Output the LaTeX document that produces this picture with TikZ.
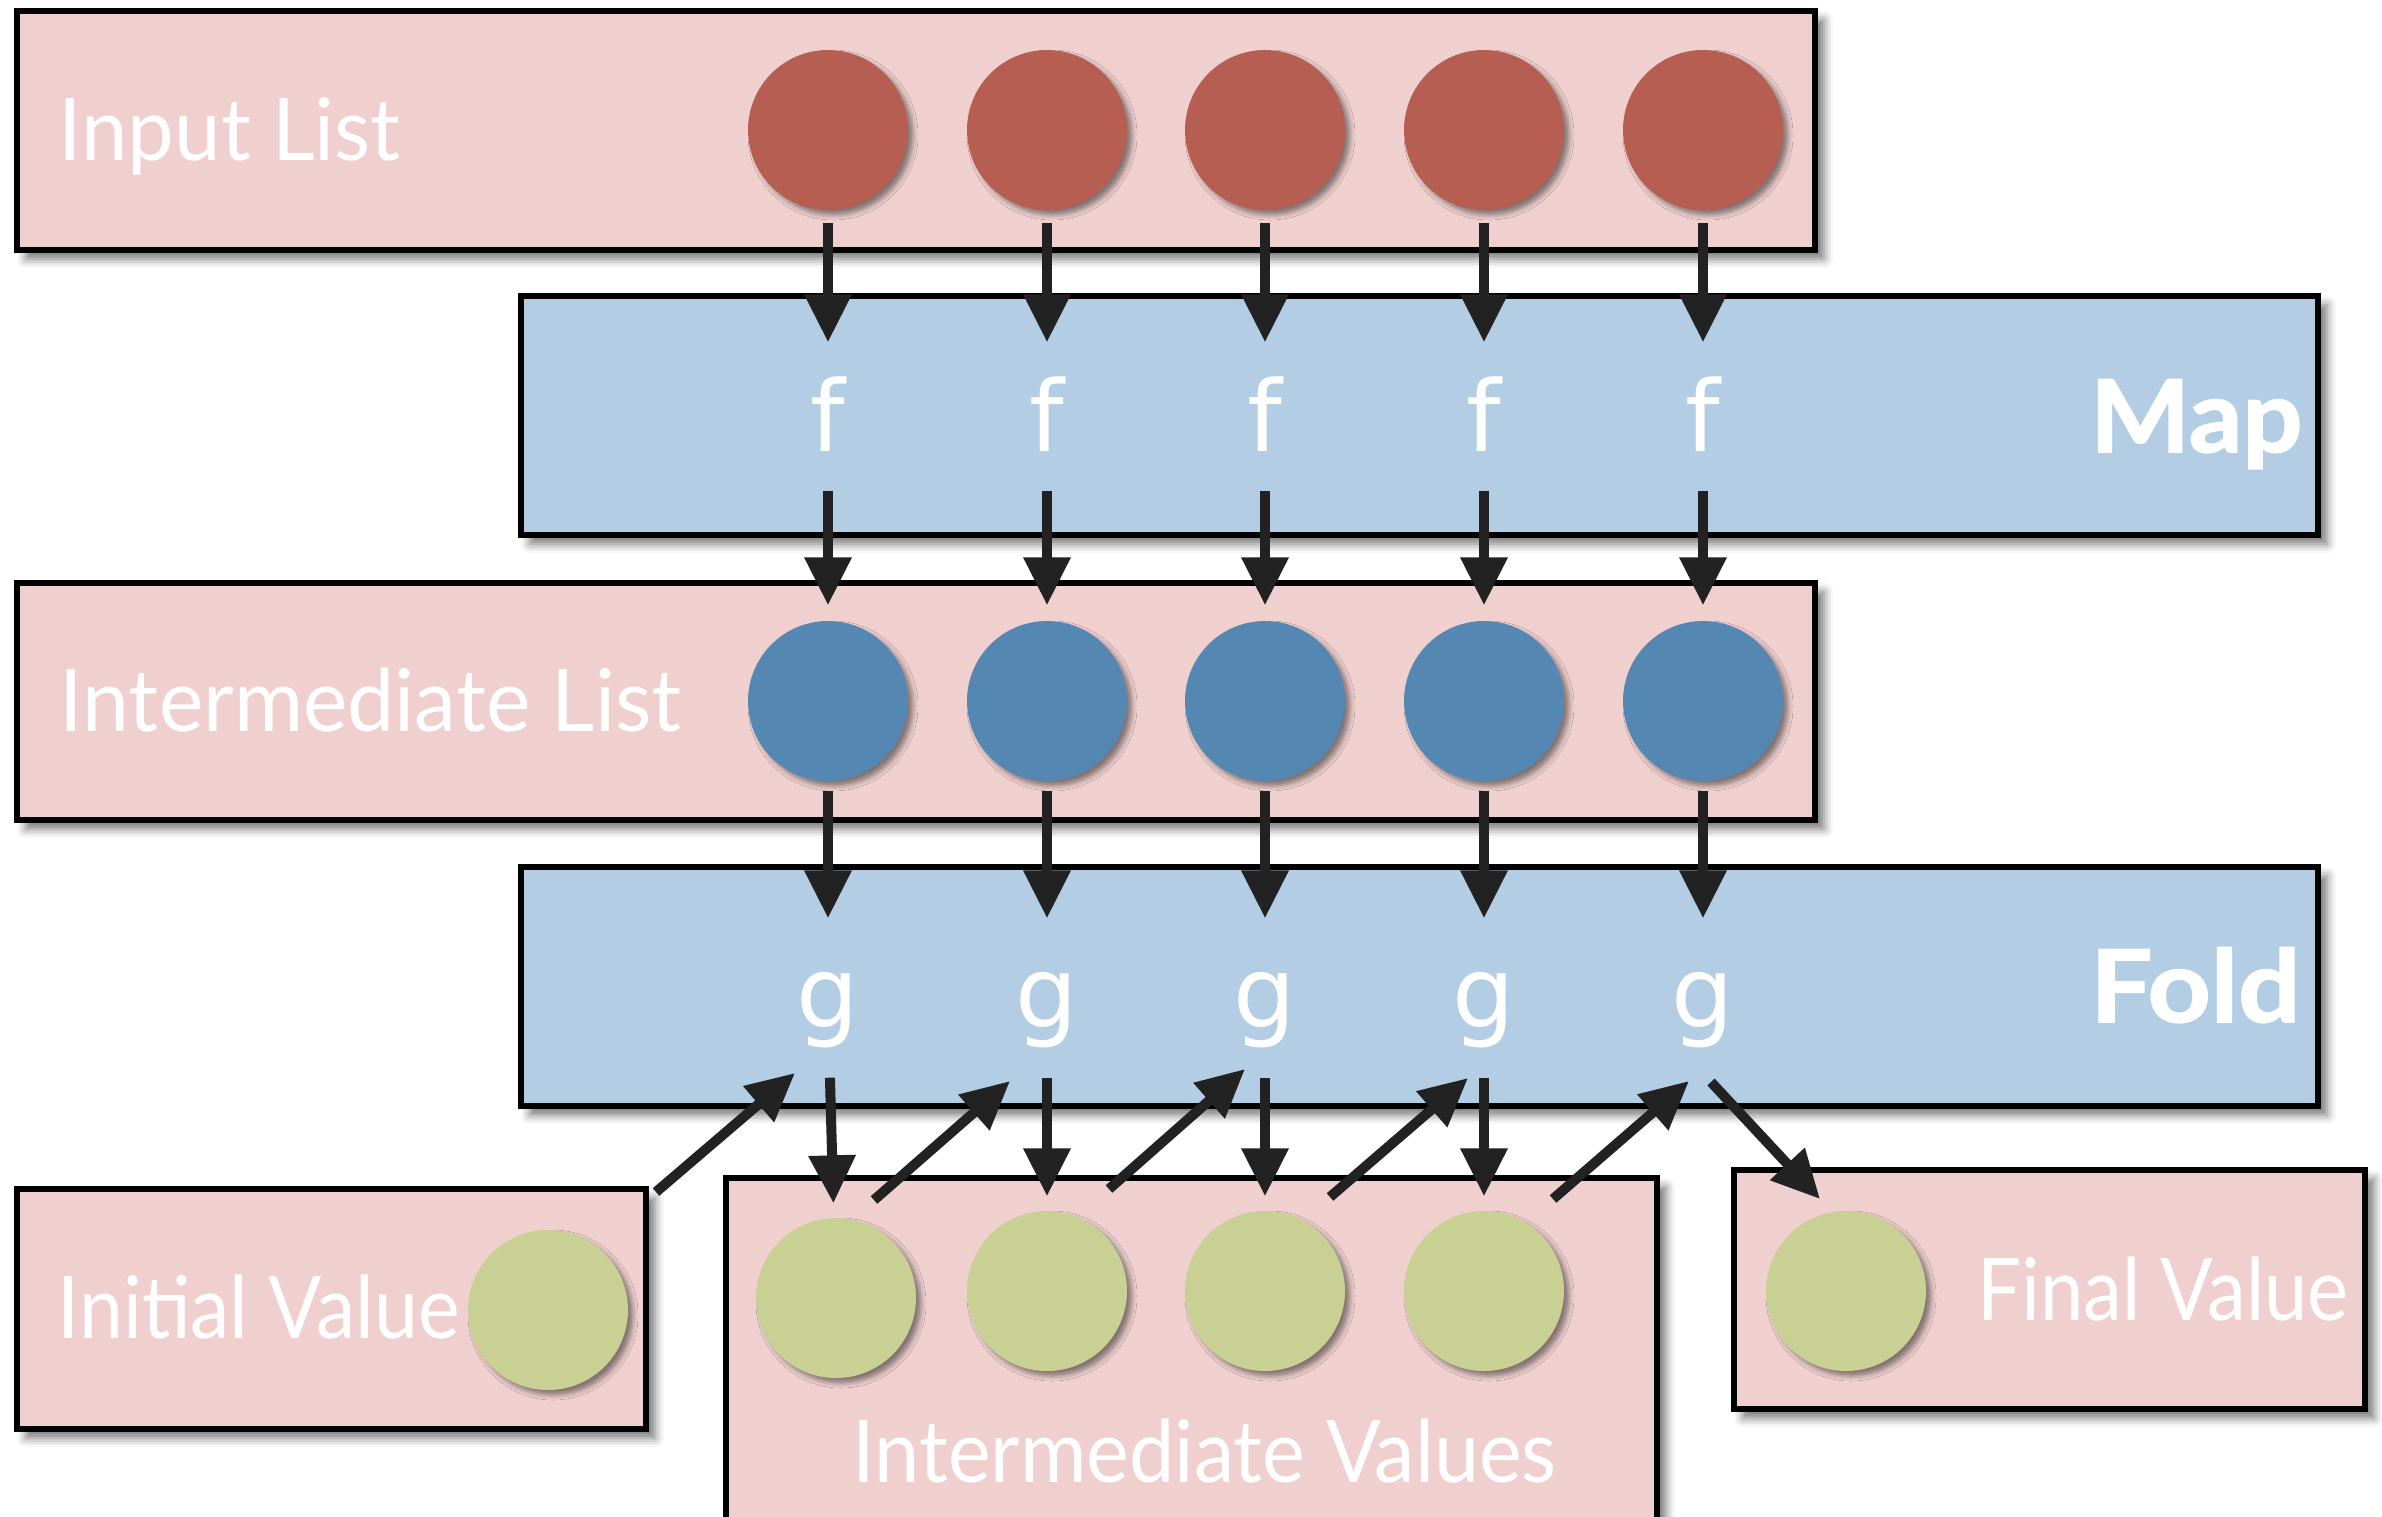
\documentclass[tikz,border=0pt]{standalone}
\usepackage{fontspec}
\setmainfont{Lato}
\newfontfamily\heavyfont[FakeBold=1.6]{Lato}
\newfontfamily\fgfont{DejaVu Sans}
\usetikzlibrary{arrows.meta,shadows.blur,calc}
\definecolor{boxpink}{HTML}{EFD0CF}
\definecolor{boxblue}{HTML}{B3CDE4}
\definecolor{dotred}{HTML}{B65E52}
\definecolor{dotblue}{HTML}{5488B2}
\definecolor{dotgreen}{HTML}{C8D094}
\definecolor{arrowc}{HTML}{222222}
\newcommand{\fitw}[2]{\resizebox{#1}{\height}{#2}}
\begin{document}
\begin{tikzpicture}[x=0.1mm,y=-0.1mm,
  panel/.style={rectangle, draw=black, line width=0.6mm, inner sep=0pt,
    blur shadow={shadow xshift=0.9mm, shadow yshift=-0.9mm, shadow blur radius=0.9mm, shadow opacity=55}},
  pinkbox/.style={panel, fill=boxpink},
  bluebox/.style={panel, fill=boxblue},
  dot/.style={circle, minimum size=16mm, inner sep=0pt, draw=none,
    blur shadow={shadow xshift=0.5mm, shadow yshift=-0.5mm, shadow blur radius=0.5mm, shadow opacity=45}},
  lbl/.style={text=white, inner sep=0pt, font=\fontsize{24.6pt}{28pt}\selectfont},
  blbl/.style={text=white, inner sep=0pt, font=\fontsize{28.6pt}{32pt}\selectfont\heavyfont\bfseries},
  fglbl/.style={text=white, inner sep=0pt, font=\fontsize{28pt}{32pt}\selectfont\fgfont},
  arr/.style={draw=arrowc, line width=1mm, -{Triangle[length=4.8mm,width=4.5mm]}}
]
\useasboundingbox (0,0) rectangle (2382,1516);
% boxes
\node[pinkbox, minimum width=179.8mm, minimum height=23.9mm] (inbox) at (916,130.5) {};
\node[bluebox, minimum width=179.7mm, minimum height=23.9mm] (mapbox) at (1419.5,415.5) {};
\node[pinkbox, minimum width=179.8mm, minimum height=23.7mm] (midbox) at (916,701.5) {};
\node[bluebox, minimum width=179.7mm, minimum height=23.9mm] (foldbox) at (1419.5,986.5) {};
\node[pinkbox, minimum width=62.9mm, minimum height=24.0mm] (initbox) at (331.5,1309) {};
\node[pinkbox, minimum width=93.1mm, minimum height=38.2mm] (valbox) at (1191.5,1369) {};
\node[pinkbox, minimum width=63.1mm, minimum height=23.9mm] (finbox) at (2049.5,1289.5) {};
% labels
\node[lbl, anchor=base west] (tin) at (58,160) {\fitw{34.2mm}{Input List}};
\node[lbl, anchor=base west] (tmid) at (59,731) {\fitw{62.2mm}{Intermediate List}};
\node[lbl, anchor=base west] (tinit) at (57,1338) {\fitw{40.2mm}{Initial Value}};
\node[lbl, anchor=base west] (tval) at (852,1482) {\fitw{70.4mm}{Intermediate Values}};
\node[lbl, anchor=base west] (tfin) at (1977,1320) {\fitw{37.1mm}{Final Value}};
\node[blbl, anchor=base east] (tmap) at (2303,452) {\fitw{21.2mm}{Map}};
\node[blbl, anchor=base east] (tfold) at (2301,1022) {\fitw{21.0mm}{Fold}};
% circles and function labels
\foreach \x [count=\i] in {828,1047,1265,1484,1703} {
  \node[dot, fill=dotred] (in\i) at (\x,130) {};
  \node[dot, fill=dotblue] (mid\i) at (\x,701) {};
  \node[fglbl, anchor=base, text height=7.4mm, text depth=0pt] (f\i) at (\x,451) {f};
  \node[fglbl, anchor=base, text height=5.5mm, text depth=1.5mm] (g\i) at (\x,1027) {g};
}
\node[dot, fill=dotgreen] (v1) at (836,1298) {};
\node[dot, fill=dotgreen] (v2) at (1047,1291) {};
\node[dot, fill=dotgreen] (v3) at (1265,1291) {};
\node[dot, fill=dotgreen] (v4) at (1484,1291) {};
\node[dot, fill=dotgreen] (iv) at (548,1310) {};
\node[dot, fill=dotgreen] (fv) at (1846,1291) {};
% vertical arrows
\foreach \i in {1,...,5} {
  \draw[arr, shorten <=1.2mm, shorten >=3.4mm] (in\i) -- (f\i);
  \draw[arr, shorten <=3.9mm, shorten >=1.5mm] (f\i) -- (mid\i);
  \draw[arr, shorten <=0.9mm, shorten >=5.3mm] (mid\i) -- (g\i);
}
\foreach \i in {1,...,4} {
  \draw[arr, shorten <=3.5mm, shorten >=1.4mm] (g\i) -- (v\i);
}
% diagonal arrows (accumulator)
\coordinate (d1s) at (656,1192); \coordinate (d1e) at (795,1073);
\coordinate (d2s) at (874,1200); \coordinate (d2e) at (1010,1081);
\coordinate (d3s) at (1109,1189); \coordinate (d3e) at (1245,1069);
\coordinate (d4s) at (1330,1197); \coordinate (d4e) at (1468,1078);
\coordinate (d5s) at (1553,1199); \coordinate (d5e) at (1689,1081);
\coordinate (d6s) at (1711,1082); \coordinate (d6e) at (1820,1199);
\foreach \i in {1,...,6} {
  \draw[arr] (d\i s) -- (d\i e);
}
\end{tikzpicture}
\end{document}
